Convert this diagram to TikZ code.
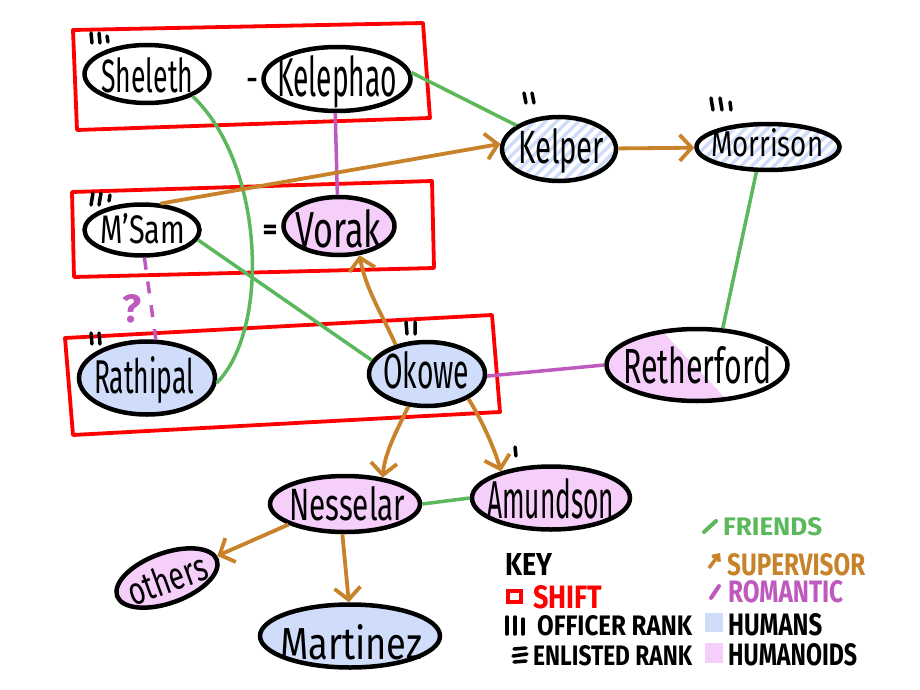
\documentclass[tikz,border=0pt]{standalone}
\usepackage{fontspec}
\usepackage{graphicx}
\setmainfont{Fira Sans}
\usetikzlibrary{arrows.meta,shapes.geometric,calc}
\definecolor{fr}{RGB}{92,184,92}
\definecolor{sv}{RGB}{200,130,42}
\definecolor{ro}{RGB}{190,90,190}
\definecolor{hu}{RGB}{207,220,250}
\definecolor{hd}{RGB}{246,206,250}
\definecolor{sh}{RGB}{255,0,0}
\begin{document}
\begin{tikzpicture}[x=1pt,y=-1pt,
  person/.style={ellipse,draw=black,line width=4.5pt,inner sep=0pt},
  human/.style={person,fill=hu},
  humanoid/.style={person,fill=hd},
  plain/.style={person,fill=white},
  hatched/.style={person,fill=white,path picture={
      \foreach \d in {-140,-129,...,140}{
        \draw[hu,line width=3.5pt] ($(path picture bounding box.center)+(\d-50,50)$) -- ++(100,-100);}}},
  nametext/.style={anchor=base west,inner sep=0pt,font=\fontsize{30}{30}\selectfont},
  friend/.style={draw=fr,line width=3.5pt},
  super/.style={draw=sv,line width=3.8pt,-{Straight Barb[length=12pt,width=26pt]}},
  roman/.style={draw=ro,line width=3.5pt},
  shiftbox/.style={draw=sh,line width=3.8pt,line join=round},
  rank/.style={line width=3.5pt,line cap=round},
  keytext/.style={anchor=base west,inner sep=0pt,font=\bfseries\fontsize{24}{24}\selectfont},
]
\useasboundingbox (0,0) rectangle (920,690);
\fill[white] (0,0) rectangle (920,690);

% shifts
\draw[shiftbox] (73,30) -- (423,23) -- (430,118) -- (77,130) -- cycle;
\draw[shiftbox] (72,192) -- (432,181) -- (434,268) -- (74,277) -- cycle;
\draw[shiftbox] (65,338) -- (492,315) -- (500,412) -- (73,435) -- cycle;

% people
\node[plain, minimum width=125pt, minimum height=58pt] (sheleth) at (147,74) {};
\node[plain, minimum width=147pt, minimum height=64pt] (kelephao) at (337,79) {};
\node[hatched, minimum width=114pt, minimum height=64pt] (kelper) at (559,149) {};
\node[hatched, minimum width=143pt, minimum height=46pt] (morrison) at (768,147) {};
\node[plain, minimum width=115pt, minimum height=51pt] (msam) at (142,230) {};
\node[humanoid, minimum width=111pt, minimum height=58pt] (vorak) at (339,226) {};
\node[human, minimum width=136pt, minimum height=73pt] (rathipal) at (147,378) {};
\node[human, minimum width=116pt, minimum height=64pt] (okowe) at (427,374) {};
\node[person, fill=white, minimum width=181pt, minimum height=72pt,
  path picture={\fill[hd] ($(path picture bounding box.center)+(-110,-50)$) -- ++(60,0) -- ++(94,100) -- ++(-154,0) -- cycle;}] (retherford) at (697,365) {};
\node[humanoid, minimum width=150pt, minimum height=56pt] (nesselar) at (345,504) {};
\node[humanoid, minimum width=158pt, minimum height=63pt] (amundson) at (551,498) {};
\node[humanoid, rotate=20, minimum width=106pt, minimum height=50pt] (others) at (167,578) {};
\node[human, minimum width=180pt, minimum height=63pt] (martinez) at (350,636) {};

% connectors
\draw[friend] (sheleth.-26) .. controls (265,165) and (270,330) .. (rathipal.-4);
\draw[friend] (kelephao.5) -- (kelper.151);
\draw[roman] (kelephao.-93) -- (vorak.93);
\draw[super] (msam.55) -- (kelper.175);
\draw[super] (kelper) -- (morrison);
\draw[friend] (morrison.-115) -- (retherford.55);
\draw[friend] (msam.-10) -- (okowe.166);
\draw[roman, dash pattern=on 12pt off 12pt] (msam.-85) -- (rathipal.77);
\draw[super] (okowe.137) .. controls (384,318) and (366,290) .. (vorak.-55);
\draw[roman] (okowe.-2) -- (retherford.west);
\draw[super] (okowe.-120) .. controls (400,425) and (385,450) .. (nesselar.35);
\draw[super] (okowe.-31) .. controls (482,420) and (495,450) .. (amundson.152);
\draw[friend] (nesselar.east) -- (amundson.west);
\draw[super] (nesselar.-160) -- (others);
\draw[super] (nesselar.-95) -- (martinez.92);

% names
\node[nametext] (shelethT) at (101,93) {\resizebox{92pt}{35pt}{Sheleth}};
\node[nametext] (kelephaoT) at (277,96) {\resizebox{120pt}{41pt}{Kelephao}};
\node[nametext] (kelperT) at (518,163) {\resizebox{86pt}{35pt}{Kelper}};
\node[nametext] (morrisonT) at (711,156) {\resizebox{112pt}{28pt}{Morrison}};
\node[nametext] (msamT) at (100,243) {\resizebox{85pt}{30pt}{M'Sam}};
\node[nametext] (vorakT) at (295,247) {\resizebox{86pt}{38pt}{Vorak}};
\node[nametext] (rathipalT) at (94,393) {\resizebox{100pt}{37pt}{Rathipal}};
\node[nametext] (okoweT) at (383,388) {\resizebox{86pt}{37pt}{Okowe}};
\node[nametext] (retherfordT) at (623,383) {\resizebox{148pt}{37pt}{Retherford}};
\node[nametext] (nesselarT) at (289,520) {\resizebox{116pt}{34pt}{Nesselar}};
\node[nametext] (amundsonT) at (487,518) {\resizebox{127pt}{40pt}{Amundson}};
\node[inner sep=0pt, rotate=20, font=\fontsize{30}{30}\selectfont] (othersT) at (167,579) {\resizebox{82pt}{29pt}{others}};
\node[nametext] (martinezT) at (280,659) {\resizebox{142pt}{35pt}{Martinez}};

\node[inner sep=0pt, font=\bfseries\fontsize{30}{30}\selectfont] (kdash) at (252,83) {\resizebox{11pt}{!}{-}};
\node[inner sep=0pt, font=\bfseries\fontsize{30}{30}\selectfont] (veq) at (270,232) {\resizebox{15pt}{!}{=}};
\node[anchor=base, inner sep=0pt, text=ro, font=\bfseries\fontsize{30}{30}\selectfont] (qmark) at (132,322) {\resizebox{!}{28pt}{?}};

% rank marks
\draw[rank] (91,33)--(92,43) (99,33)--(100,43) (107,36)--(108,42);
\draw[rank] (524,93)--(526,103) (532,93)--(534,103);
\draw[rank] (711,98)--(713,110) (720,98)--(722,110) (730,102)--(731,110);
\draw[rank] (93,193)--(91,205) (101,193)--(99,205) (110,195)--(109,201);
\draw[rank] (91,333)--(92,344) (99,333)--(100,344);
\draw[rank] (406,322)--(407,334) (415,322)--(415,334);
\draw[rank] (515,447)--(516,456);

% key
\node[keytext] (keyT) at (505,575) {\resizebox{47pt}{22pt}{KEY}};
\draw[sh, line width=3.5pt] (508,591) rectangle (521,602);
\node[keytext, text=sh] (shiftT) at (533,608) {\resizebox{69pt}{23pt}{SHIFT}};
\draw[rank] (507,617)--(507,634) (515,617)--(515,634) (523,619)--(523,634);
\node[keytext] (officerT) at (537,635) {\resizebox{155pt}{20pt}{OFFICER RANK}};
\draw[rank] (514,649)--(526,648) (513,656)--(527,654) (514,662)--(526,661);
\node[keytext] (enlistedT) at (533,665) {\resizebox{159pt}{20pt}{ENLISTED RANK}};
\draw[fr, line width=4pt, line cap=round] (704,532)--(716,521);
\node[keytext, text=fr] (friendsT) at (723,535) {\resizebox{99pt}{18pt}{FRIENDS}};
\draw[sv, line width=3.5pt, -{Straight Barb[length=5pt,width=9pt]}] (709,568)--(720,553);
\node[keytext, text=sv] (superT) at (727,575) {\resizebox{138pt}{22pt}{SUPERVISOR}};
\draw[ro, line width=4pt, line cap=round] (711,598)--(719,586);
\node[keytext, text=ro] (romanT) at (728,602) {\resizebox{115pt}{22pt}{ROMANTIC}};
\fill[hu] (705,613) rectangle (723,632);
\node[keytext] (humansT) at (728,635) {\resizebox{94pt}{22pt}{HUMANS}};
\fill[hd] (705,643) rectangle (723,663);
\node[keytext] (humanoidsT) at (728,665) {\resizebox{129pt}{22pt}{HUMANOIDS}};
\end{tikzpicture}
\end{document}
